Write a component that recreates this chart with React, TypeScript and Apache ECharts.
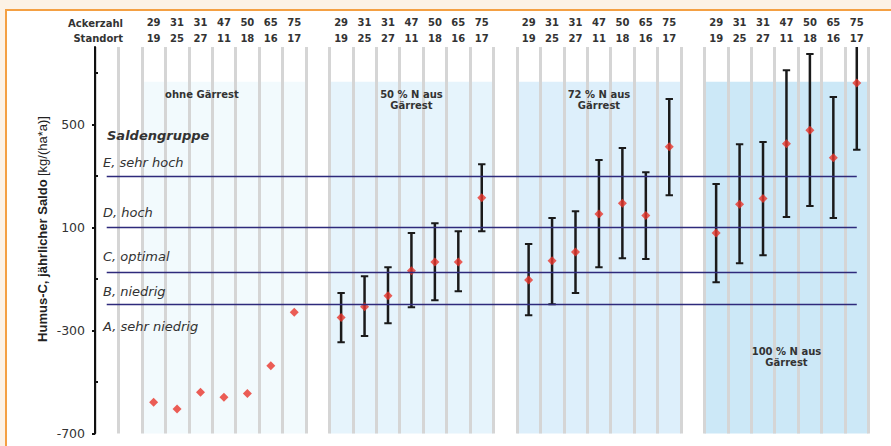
import React, { useEffect, useRef } from 'react';
import * as echarts from 'echarts';

// ---- data ----
const ackerzahl = [29, 31, 31, 47, 50, 65, 75];
const standort = [19, 25, 27, 11, 18, 16, 17];
const groupNames = ['ohne Gärrest', '50 % N aus\nGärrest', '72 % N aus\nGärrest', '100 % N aus\nGärrest'];
const groupStartSlot = [2, 10, 18, 26];
const slotCount = 33;

const meanOhne = [-579, -605, -540, -559, -545, -437, -229];
const mean50 = [-250, -208, -165, -68, -34, -34, 215];
const low50 = [-346, -322, -272, -210, -183, -148, 85];
const high50 = [-155, -90, -55, 78, 116, 85, 345];
const mean72 = [-104, -30, 4, 152, 194, 146, 413];
const low72 = [-241, -198, -155, -55, -20, -23, 225];
const high72 = [35, 136, 163, 361, 408, 314, 598];
const mean100 = [78, 190, 212, 425, 477, 370, 660];
const low100 = [-113, -39, -8, 140, 183, 136, 401];
const high100 = [268, 423, 431, 710, 773, 606, 840];

const groupMeans = [meanOhne, mean50, mean72, mean100];
const groupLows: (number[] | null)[] = [null, low50, low72, low100];
const groupHighs: (number[] | null)[] = [null, high50, high72, high100];

const classBounds = [300, 100, -75, -200];
const classLabels = ['E, sehr hoch', 'D, hoch', 'C, optimal', 'B, niedrig', 'A, sehr niedrig'];
const yLabelTicks = [-700, -300, 100, 500];
const yMinorTicks = [-500, -100, 300, 700];
const yMin = -700;
const yMax = 800;
const panelTop = 665;

// ---- style ----
const panelColors = ['#F2FAFD', '#E6F4FC', '#DDEFFB', '#CCE8F7'];
const FONT = 'DejaVu Sans, Verdana, sans-serif';
const AXFONT = 'Liberation Sans, Arial, sans-serif';

export default function App() {
  const ref = useRef<HTMLDivElement>(null);
  useEffect(() => {
    if (!ref.current) return;
    const chart = echarts.init(ref.current, undefined, { renderer: 'svg' });

    const headerCats: string[] = [];
    for (let s = 0; s < slotCount; s++) headerCats.push('s' + s);
    const headerText = (idx: number) => {
      for (let g = 0; g < groupStartSlot.length; g++) {
        const i = idx - groupStartSlot[g];
        if (i >= 0 && i < ackerzahl.length) return ackerzahl[i] + '\n' + standort[i];
      }
      return '';
    };

    const points: number[][] = [];
    const bars: number[][] = [];
    groupMeans.forEach((arr, g) => {
      arr.forEach((v, i) => {
        const x = groupStartSlot[g] + i + 0.5;
        points.push([x, v]);
        const lo = groupLows[g];
        const hi = groupHighs[g];
        if (lo && hi) bars.push([x, lo[i], hi[i]]);
      });
    });

    const areas = groupNames.map((name, g) => [
      { xAxis: groupStartSlot[g], yAxis: panelTop, itemStyle: { color: panelColors[g] } },
      { xAxis: groupStartSlot[g] + ackerzahl.length, yAxis: yMin },
    ]);

    const areaLabels = groupNames.map((name, g) => [
      {
        name,
        xAxis: groupStartSlot[g],
        yAxis: panelTop,
        itemStyle: { color: 'rgba(0,0,0,0)' },
        label: g === 3
          ? { position: 'insideBottom', distance: 65 }
          : { position: 'insideTop', distance: 7, offset: g === 0 ? [-22, 0] : [0, 0] },
      },
      { xAxis: groupStartSlot[g] + ackerzahl.length, yAxis: yMin },
    ]);

    const lines = classBounds.map((v) => [
      { coord: [0.5, v] },
      { coord: [slotCount - 0.5, v] },
    ]);

    const textLabels = [
      { t: 'Saldengruppe', y: 135, x: 107, bold: true },
      { t: classLabels[0], y: 162, x: 103 },
      { t: classLabels[1], y: 212.5, x: 103 },
      { t: classLabels[2], y: 256.5, x: 103 },
      { t: classLabels[3], y: 291, x: 103 },
      { t: classLabels[4], y: 326.5, x: 103 },
    ];

    chart.setOption({
      animation: false,
      grid: { left: 95, right: 22.5, top: 47, bottom: 12.5 },
      xAxis: [
        {
          type: 'value',
          min: 0,
          max: slotCount,
          interval: 1,
          z: 3,
          axisLine: { show: false },
          axisTick: { show: false },
          axisLabel: { show: false },
          splitLine: { show: true, lineStyle: { color: '#D5D5D5', width: 3 } },
        },
        {
          type: 'category',
          position: 'top',
          data: headerCats,
          boundaryGap: true,
          axisLine: { show: false },
          axisTick: { show: false },
          splitLine: { show: false },
          axisLabel: {
            interval: 0,
            margin: 1,
            formatter: (_v: string, idx: number) => headerText(idx),
            fontFamily: FONT,
            fontWeight: 'bold',
            fontSize: 10,
            lineHeight: 15.4,
            color: '#333',
          },
        },
      ],
      yAxis: [
        {
          type: 'value',
          position: 'left',
          z: 8,
          min: yMin,
          max: yMax,
          interval: 200,
          axisLine: { show: true, lineStyle: { color: '#111', width: 2 } },
          axisTick: { show: true, length: 3, customValues: yLabelTicks, lineStyle: { color: '#111', width: 2 } },
          axisLabel: { customValues: yLabelTicks, margin: 10, fontFamily: FONT, fontSize: 12.5, color: '#333' },
          splitLine: { show: false },
        },
        {
          type: 'value',
          position: 'left',
          offset: 0,
          z: 8,
          min: yMin,
          max: yMax,
          interval: 200,
          axisLine: { show: false },
          axisTick: { show: true, inside: true, length: 3, customValues: yMinorTicks, lineStyle: { color: '#111', width: 2 } },
          axisLabel: { show: false },
          splitLine: { show: false },
        },
      ],
      graphic: [
        {
          type: 'text',
          x: 42,
          y: 229,
          rotation: Math.PI / 2,
          style: {
            text: '{b|Humus-C, jährlicher Saldo} {n|[kg/(ha*a)]}',
            align: 'center',
            verticalAlign: 'middle',
            fill: '#222',
            rich: {
              b: { fontFamily: AXFONT, fontWeight: 'bold', fontSize: 13, fill: '#222' },
              n: { fontFamily: AXFONT, fontSize: 13, fill: '#222' },
            },
          },
        },
        {
          type: 'text', x: 123, y: 23.3,
          style: { text: 'Ackerzahl', align: 'right', verticalAlign: 'middle', fontFamily: FONT, fontWeight: 'bold', fontSize: 10, fill: '#333' },
        },
        {
          type: 'text', x: 123, y: 38.7,
          style: { text: 'Standort', align: 'right', verticalAlign: 'middle', fontFamily: FONT, fontWeight: 'bold', fontSize: 10, fill: '#333' },
        },
        ...textLabels.map((l) => ({
          type: 'text',
          x: l.x,
          y: l.y,
          z: 10,
          style: {
            text: l.t,
            align: 'left',
            verticalAlign: 'middle',
            fontFamily: FONT,
            fontStyle: 'italic',
            fontWeight: l.bold ? 'bold' : 'normal',
            fontSize: 13,
            fill: '#333',
          },
        })),
      ],
      series: [
        {
          type: 'custom',
          name: 'range',
          xAxisIndex: 0,
          yAxisIndex: 0,
          clip: true,
          z: 2,
          data: bars,
          renderItem: (_p: any, api: any) => {
            const x = api.value(0);
            const lo = api.coord([x, api.value(1)]);
            const hi = api.coord([x, api.value(2)]);
            const w = 3.7;
            const st = { stroke: '#1A1A1A', lineWidth: 2.5 };
            const cs = { stroke: '#1A1A1A', lineWidth: 2 };
            return {
              type: 'group',
              children: [
                { type: 'line', shape: { x1: lo[0], y1: lo[1], x2: hi[0], y2: hi[1] }, style: st },
                { type: 'line', shape: { x1: lo[0] - w, y1: lo[1], x2: lo[0] + w, y2: lo[1] }, style: cs },
                { type: 'line', shape: { x1: hi[0] - w, y1: hi[1], x2: hi[0] + w, y2: hi[1] }, style: cs },
              ],
            };
          },
          markArea: {
            silent: true,
            z: -1,
            label: { show: false },
            data: areas,
          },
          markLine: {
            silent: true,
            symbol: 'none',
            label: { show: false },
            lineStyle: { color: '#2E2A7B', width: 1.3, type: 'solid' },
            emphasis: { disabled: true },
            data: lines,
          },
        },
        {
          type: 'scatter',
          name: 'Mittelwert',
          xAxisIndex: 0,
          yAxisIndex: 0,
          z: 4,
          symbol: 'diamond',
          symbolSize: 9,
          itemStyle: { color: '#E8342A' },
          data: points,
          markArea: {
            silent: true,
            z: 6,
            label: {
              show: true,
              fontFamily: FONT,
              fontWeight: 'bold',
              fontSize: 10,
              lineHeight: 11.4,
              color: '#333',
              align: 'center',
            },
            data: areaLabels,
          },
        },
      ],
    });
    return () => chart.dispose();
  }, []);

  return (
    <div style={{ position: 'fixed', left: 0, top: 0, width: 891, height: 446, background: '#FCF2E6', overflow: 'hidden' }}>
      <div
        style={{
          position: 'absolute', left: 5, top: 9, width: 886, height: 437, background: '#fff',
          borderTop: '2px solid #F4A043', borderLeft: '2px solid #F4A043', boxSizing: 'border-box',
        }}
      />
      <div ref={ref} style={{ position: 'absolute', left: 0, top: 0, width: 891, height: 446 }} />
    </div>
  );
}
